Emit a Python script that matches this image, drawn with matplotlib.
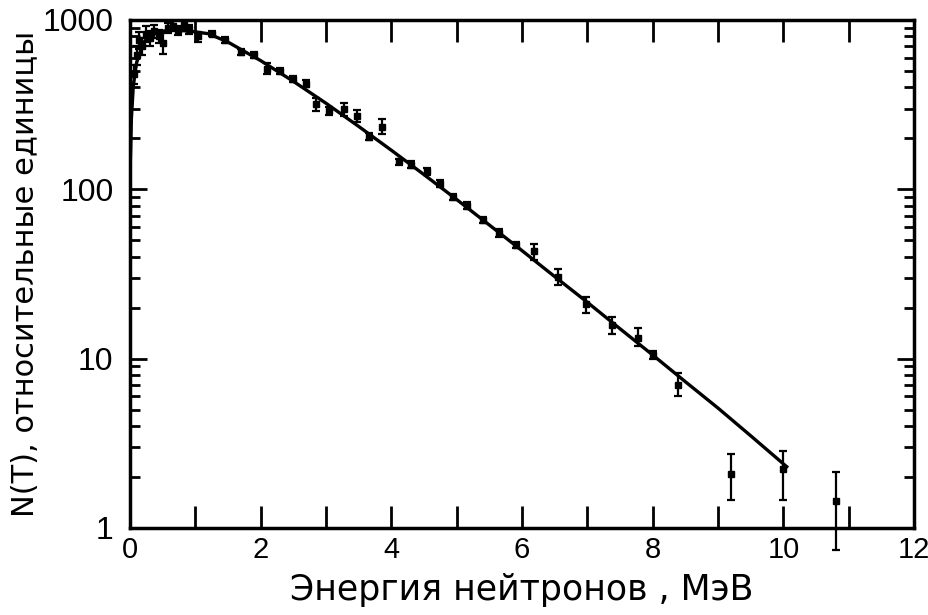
import numpy as np
import matplotlib
matplotlib.use("Agg")
import matplotlib.pyplot as plt
import matplotlib.transforms as mtransforms
from matplotlib.ticker import MultipleLocator, LogLocator, NullFormatter, FixedLocator

# fitted spectrum curve
curve_e = [0.005, 0.01, 0.02, 0.05, 0.1, 0.2, 0.3, 0.5, 0.7, 0.9, 1.2, 1.5, 2.0, 2.5,
           3.0, 3.5, 4.0, 4.5, 5.0, 5.5, 6.0, 6.5, 7.0, 7.5, 8.0, 8.5, 9.0, 9.5, 10.05]
curve_n = [150, 175, 260, 410, 560, 730, 810, 860, 870, 860, 830, 740, 575, 434,
           322, 235, 170, 122, 87, 61.5, 43.4, 30.5, 21.5, 15.0, 10.5, 7.3, 5.1, 3.5, 2.3]

# measured points with error bars
pts_e = [0.06, 0.1, 0.14, 0.18, 0.24, 0.3, 0.36, 0.44, 0.5, 0.58, 0.66, 0.74, 0.82,
         0.9, 1.04, 1.25, 1.45, 1.7, 1.9, 2.09, 2.3, 2.5, 2.7, 2.85, 3.05, 3.28, 3.47,
         3.65, 3.85, 4.12, 4.3, 4.55, 4.75, 4.95, 5.15, 5.4, 5.65, 5.9, 6.18, 6.55,
         6.98, 7.37, 7.77, 8.0, 8.38, 9.2, 10.0, 10.8]
pts_n = [480, 620, 760, 700, 830, 780, 860, 800, 730, 900, 920, 870, 930,
         880, 800, 830, 760, 650, 620, 513, 500, 450, 420, 320, 290, 297, 270,
         205, 234, 146, 140, 128, 108, 90, 80, 66, 55, 47, 43, 30.5,
         20.9, 15.7, 13.3, 10.5, 7.0, 2.09, 2.24, 1.44]
pts_lo = [420, 540, 670, 620, 740, 700, 780, 730, 630, 840, 860, 820, 880,
          830, 740, 800, 730, 625, 595, 480, 480, 430, 400, 290, 275, 270, 249,
          195, 211, 140, 134, 122, 103, 86, 76, 63, 52, 45, 38.5, 27.4,
          18.7, 13.9, 11.8, 9.9, 6.04, 1.47, 1.47, 0.74]
pts_hi = [540, 700, 850, 780, 920, 860, 940, 870, 850, 960, 980, 920, 980,
          930, 850, 860, 790, 675, 645, 560, 520, 470, 440, 345, 305, 323, 293,
          215, 260, 152, 146, 134, 113, 94, 84, 69, 58, 49, 47.3, 34,
          23, 17.7, 15.2, 11.1, 8.26, 2.75, 2.86, 2.15]

xlabel = "Энергия нейтронов , МэВ"
ylabel = "N(T), относительные единицы"

plt.rcParams["font.family"] = ["Liberation Sans", "DejaVu Sans"]

fig = plt.figure(figsize=(9.29, 6.15), dpi=100)
ax = fig.add_axes([0.140, 0.1415, 0.844, 0.826])

ax.plot(curve_e, curve_n, color="black", lw=2.4, zorder=3)

n = np.array(pts_n)
yerr = [n - np.array(pts_lo), np.array(pts_hi) - n]
ax.errorbar(pts_e, pts_n, yerr=yerr, fmt="s", color="black", ms=4, elinewidth=1.6,
            capsize=3, capthick=1.6, clip_on=False, zorder=4)

ax.set_yscale("log")
ax.set_xlim(0, 12)
ax.set_ylim(1, 1000)

ax.xaxis.set_major_locator(MultipleLocator(2))
ax.xaxis.set_minor_locator(MultipleLocator(1))
ax.yaxis.set_major_locator(FixedLocator([1, 10, 100, 1000]))
ax.yaxis.set_major_formatter(plt.FuncFormatter(lambda v, p: "%d" % v))
ax.yaxis.set_minor_locator(LogLocator(base=10, subs=np.arange(2, 10)))
ax.yaxis.set_minor_formatter(NullFormatter())

ax.tick_params(axis="x", which="both", direction="in", length=15.8, width=2,
               top=True, labelsize=21, pad=6)
ax.tick_params(axis="y", which="major", direction="in", length=12, width=2,
               right=True, labelsize=23, pad=12)
ax.tick_params(axis="y", which="minor", direction="in", length=7, width=2, right=True)

for s in ax.spines.values():
    s.set_linewidth(2.5)

ax.set_xlabel(xlabel, fontsize=25, family="DejaVu Sans", labelpad=6)
ax.set_ylabel(ylabel, fontsize=22, family="DejaVu Sans", labelpad=2)

# keep the last x tick label inside the figure
fig.canvas.draw()
last = ax.get_xticklabels()[-1]
last.set_transform(last.get_transform() + mtransforms.ScaledTranslation(-6 / 100, 0, fig.dpi_scale_trans))

fig.savefig("out.png", dpi=100)
